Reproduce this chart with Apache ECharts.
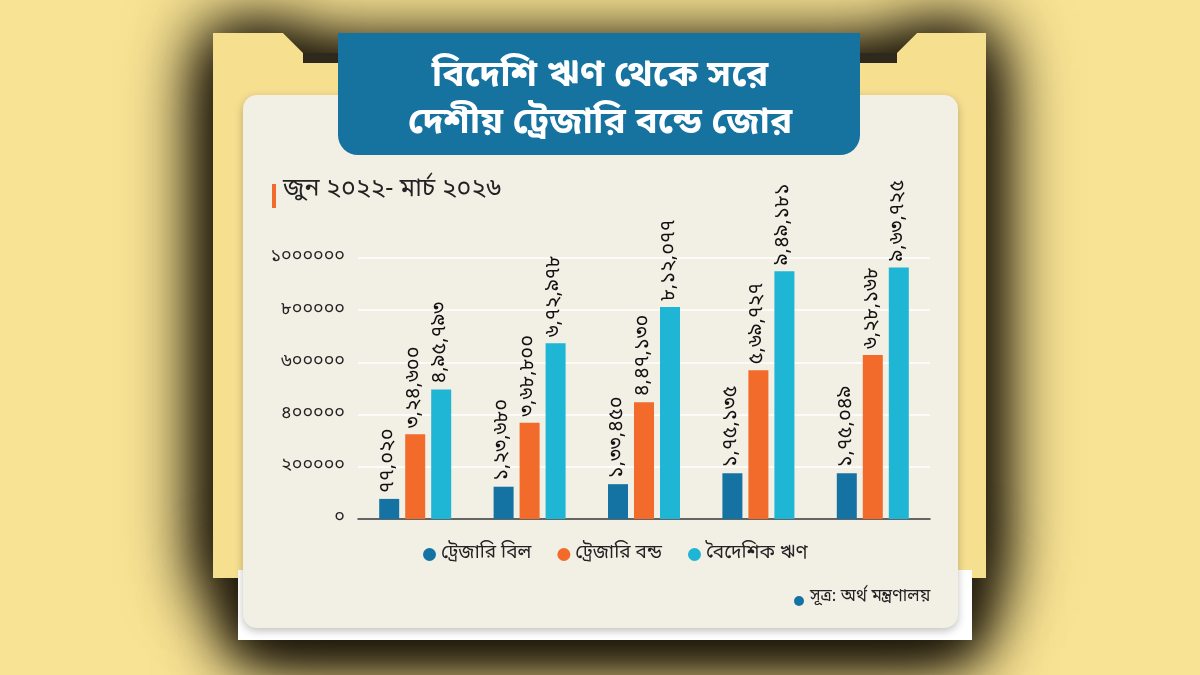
<!DOCTYPE html>
<html>
<head>
<meta charset="utf-8">
<script src="https://cdn.jsdelivr.net/npm/echarts@6/dist/echarts.min.js"></script>
<style>
html, body { margin: 0; padding: 0; background: #f8e394; }
#chart { width: 1200px; height: 675px; }
</style>
</head>
<body>
<div id="chart"></div>
<script>
// সময়কাল (x অক্ষে লেবেল দেখানো হয় না)
var periods = ['১', '২', '৩', '৪', '৫'];
var billData = [77020, 123680, 133450, 175135, 175049];
var bondData = [324600, 368800, 447130, 569727, 628168];
var foreignData = [495793, 672978, 812077, 949181, 963725];
var seriesNames = ['ট্রেজারি বিল', 'ট্রেজারি বন্ড', 'বৈদেশিক ঋণ'];
var seriesColors = ['#1573a3', '#f26b2b', '#1fb5d4'];

var titleLine1 = 'বিদেশি ঋণ থেকে সরে';
var titleLine2 = 'দেশীয় ট্রেজারি বন্ডে জোর';
var subTitle = 'জুন ২০২২- মার্চ ২০২৬';
var sourceText = 'সূত্র: অর্থ মন্ত্রণালয়';

var fontBn = '"Noto Sans Bengali", "Noto Serif Bengali", "Noto Sans", sans-serif';

//বাংলা অঙ্ক
function toBn(str) {
	var d = ['০', '১', '২', '৩', '৪', '৫', '৬', '৭', '৮', '৯'];
	return String(str).replace(/[0-9]/g, function(c) { return d[+c]; });
}
//ভারতীয় পদ্ধতিতে কমা
function indianFormat(n) {
	var s = String(n);
	if(s.length <= 3) return s;
	var last3 = s.slice(-3);
	var rest = s.slice(0, -3);
	rest = rest.replace(/\B(?=(\d{2})+(?!\d))/g, ',');
	return rest + ',' + last3;
}

var dataList = [billData, bondData, foreignData];
var series = [];
for(var i = 0; i < dataList.length; i++) {
	series.push({
		name: seriesNames[i],
		type: 'bar',
		data: dataList[i],
		barWidth: 20,
		barGap: '30%',
		itemStyle: { color: seriesColors[i] },
		label: {
			show: true,
			position: 'top',
			rotate: 90,
			align: 'left',
			verticalAlign: 'middle',
			distance: 6,
			color: '#111',
			fontSize: 20,
			fontFamily: fontBn,
			formatter: function(p) { return toBn(indianFormat(p.value)); }
		}
	});
}

//ছায়ার জন্য কয়েক স্তর
var folderPts = [[213, 33], [283, 33], [303, 53], [897, 53], [917, 33], [986, 33], [986, 578], [213, 578]];
var shadowCol = 'rgba(28,22,10,1)';
var graphics = [];
for(var k = 0; k < 3; k++) {
	graphics.push({
		type: 'polygon', z: -12,
		shape: { points: folderPts },
		style: { fill: '#2a2418', shadowBlur: 55 + k * 15, shadowColor: shadowCol, shadowOffsetY: 6 }
	});
	graphics.push({
		type: 'rect', z: -12,
		shape: { x: 238, y: 560, width: 734, height: 80 },
		style: { fill: '#2a2418', shadowBlur: 50 + k * 15, shadowColor: shadowCol, shadowOffsetY: 10 }
	});
}
graphics = graphics.concat([
	//ফোল্ডার
	{
		type: 'polygon', z: -10,
		shape: { points: folderPts },
		style: { fill: '#f6df8f' }
	},
	{
		type: 'rect', z: -9,
		shape: { x: 303, y: 53, width: 594, height: 10 },
		style: { fill: '#2e281d' }
	},
	{
		type: 'rect', z: -8,
		shape: { x: 238, y: 570, width: 734, height: 70 },
		style: { fill: '#ffffff' }
	},
	//কার্ড
	{
		type: 'rect', z: -7,
		shape: { x: 243, y: 95, width: 715, height: 533, r: 14 },
		style: { fill: '#f2efe5', shadowBlur: 8, shadowColor: 'rgba(0,0,0,0.25)', shadowOffsetY: 3 }
	},
	//শিরোনাম ব্যানার
	{
		type: 'rect', z: -6,
		shape: { x: 338, y: 33, width: 522, height: 122, r: [0, 0, 20, 20] },
		style: { fill: '#16729f' }
	},
	{
		type: 'text', z: 5,
		left: 'center', top: 60,
		style: { text: titleLine1, fill: '#fff', font: 'bold 37px ' + fontBn, textAlign: 'center' }
	},
	{
		type: 'text', z: 5,
		left: 'center', top: 107,
		style: { text: titleLine2, fill: '#fff', font: 'bold 37px ' + fontBn, textAlign: 'center' }
	},
	{
		type: 'rect', z: 5,
		shape: { x: 272, y: 184, width: 4, height: 24 },
		style: { fill: '#f26b2b' }
	},
	{
		type: 'text', z: 5,
		left: 283, top: 179,
		style: { text: subTitle, fill: '#222', font: '25px ' + fontBn }
	},
	{
		type: 'circle', z: 5,
		shape: { cx: 799, cy: 601, r: 5 },
		style: { fill: '#1573a3' }
	},
	{
		type: 'text', z: 5,
		left: 810, top: 589,
		style: { text: sourceText, fill: '#222', font: '17px ' + fontBn }
	}
]);

var chart = echarts.init(document.getElementById('chart'));
var option = {
	backgroundColor: '#f8e394',
	animation: false,
	graphic: graphics,
	legend: {
		data: seriesNames,
		left: 418,
		top: 540,
		icon: 'circle',
		itemWidth: 13,
		itemHeight: 13,
		itemGap: 26,
		textStyle: { fontSize: 19, color: '#222', fontFamily: fontBn }
	},
	grid: {
		left: 358,
		right: 270,
		top: 258,
		bottom: 156,
		containLabel: false
	},
	xAxis: {
		type: 'category',
		data: periods,
		axisLine: { lineStyle: { color: '#333', width: 1.5 } },
		axisTick: { show: false },
		axisLabel: { show: false }
	},
	yAxis: {
		type: 'value',
		min: 0,
		max: 1000000,
		interval: 200000,
		axisLine: { show: false },
		axisTick: { show: false },
		splitLine: { lineStyle: { color: '#ffffff', width: 1.5 } },
		axisLabel: {
			color: '#222',
			fontSize: 18,
			margin: 13,
			fontFamily: fontBn,
			formatter: function(v) { return toBn(v); }
		}
	},
	series: series
};
chart.setOption(option);
</script>
</body>
</html>
